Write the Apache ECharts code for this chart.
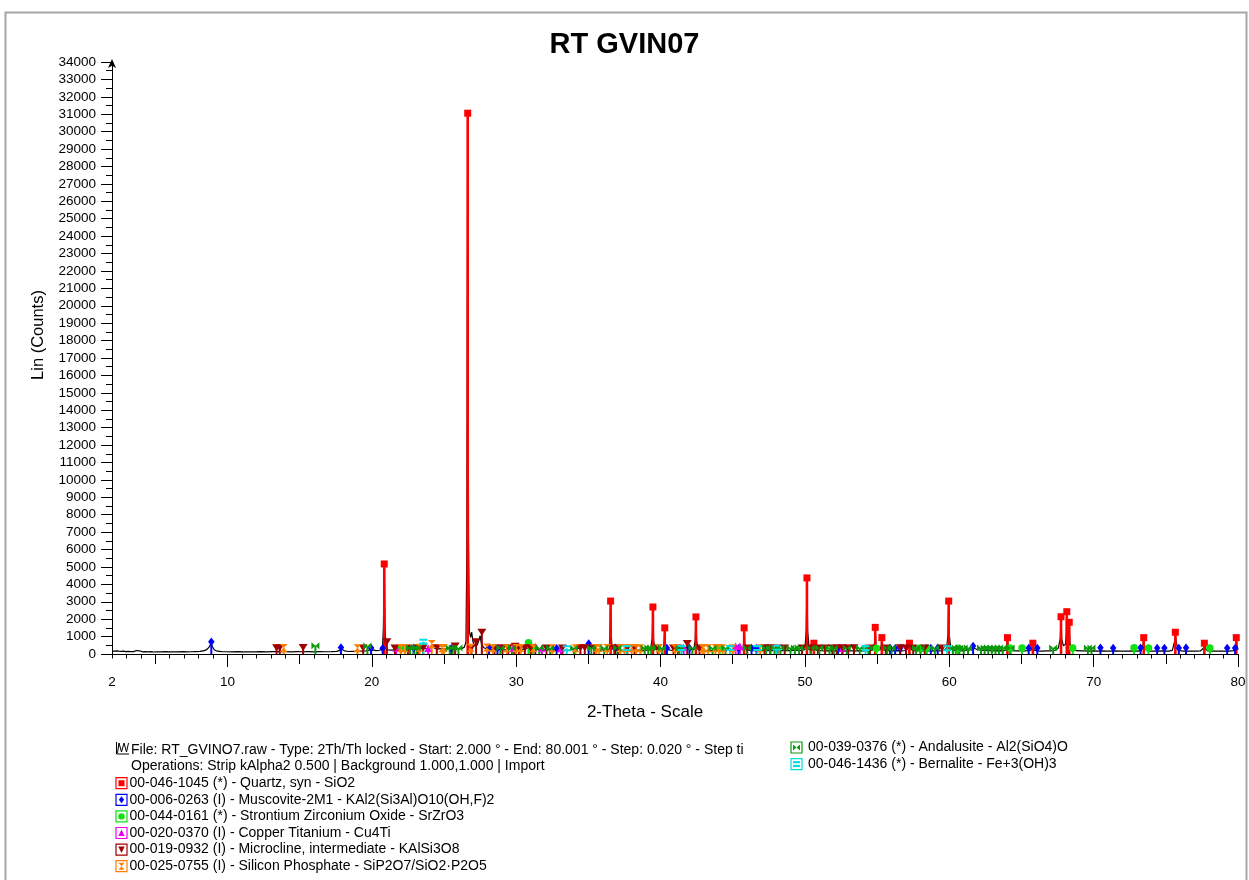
<!DOCTYPE html>
<html>
<head>
<meta charset="utf-8">
<script src="https://cdn.jsdelivr.net/npm/echarts@6/dist/echarts.min.js"></script>
<style>
  html, body { margin: 0; padding: 0; background: #ffffff; }
  #chart { width: 1249px; height: 880px; }
</style>
</head>
<body>
<div id="chart"></div>
<script>
// ---- texts ----
const titleText = 'RT GVIN07';
const xAxisTitle = '2-Theta - Scale';
const yAxisTitle = 'Lin (Counts)';
const fileLines = [
  'File: RT_GVINO7.raw - Type: 2Th/Th locked - Start: 2.000 \u00b0 - End: 80.001 \u00b0 - Step: 0.020 \u00b0 - Step ti',
  'Operations: Strip kAlpha2 0.500 | Background 1.000,1.000 | Import'
];
const phaseNames = [
  '00-046-1045 (*) - Quartz, syn - SiO2',
  '00-006-0263 (I) - Muscovite-2M1 - KAl2(Si3Al)O10(OH,F)2',
  '00-044-0161 (*) - Strontium Zirconium Oxide - SrZrO3',
  '00-020-0370 (I) - Copper Titanium - Cu4Ti',
  '00-019-0932 (I) - Microcline, intermediate - KAlSi3O8',
  '00-025-0755 (I) - Silicon Phosphate - SiP2O7/SiO2\u00b7P2O5',
  '00-039-0376 (*) - Andalusite - Al2(SiO4)O',
  '00-046-1436 (*) - Bernalite - Fe+3(OH)3'
];

// ---- axes ----
const xMin = 2, xMax = 80;
const xLabelValues = [2, 10, 20, 30, 40, 50, 60, 70, 80];
const xTenTicks = [10, 20, 30, 40, 50, 60, 70, 80];
const xFiveTicks = [5, 15, 25, 35, 45, 55, 65, 75];
const yMin = 0, yMax = 34000, yStep = 1000;

// ---- measured pattern: [2-theta, counts] ----
const scan = [
  [2.00,150],[2.08,95],[2.16,170],[2.24,100],[2.32,180],[2.40,110],[2.48,160],[2.56,90],[2.64,150],[2.72,120],
  [2.80,165],[2.88,100],[2.96,140],[3.04,115],[3.12,150],[3.20,105],[3.30,140],[3.40,120],[3.50,135],[3.60,150],
  [3.70,200],[3.80,215],[3.90,185],[4.00,140],[4.15,125],[4.30,140],[4.50,120],[4.70,135],[4.90,115],[5.10,130],
  [5.40,120],[5.70,135],[6.00,125],[6.30,130],[6.60,120],[6.90,135],[7.20,125],[7.50,130],[7.80,140],[8.10,150],
  [8.40,190],[8.60,280],[8.75,420],[8.85,620],[8.95,430],[9.10,230],[9.30,160],[9.60,140],[9.90,130],[10.3,125],
  [10.7,135],[11.1,125],[11.5,130],[11.9,120],[12.3,135],[12.7,125],[13.1,135],[13.4,140],[13.7,150],[14.0,140],
  [14.4,125],[14.8,135],[15.2,130],[15.6,140],[16.0,125],[16.4,135],[16.8,130],[17.2,140],[17.55,150],[17.8,210],
  [17.95,260],[18.1,180],[18.4,145],[18.7,150],[19.0,155],[19.3,170],[19.6,185],[19.85,220],[20.05,240],[20.3,195],
  [20.55,215],[20.74,360],[20.80,1500],[20.86,5170],[20.92,1400],[20.98,380],[21.1,240],[21.4,225],[21.7,265],[22.0,250],
  [22.25,285],[22.5,260],[22.75,310],[23.0,390],[23.15,320],[23.35,290],[23.6,360],[23.8,300],[24.0,330],[24.2,460],
  [24.35,330],[24.6,295],[24.85,310],[25.1,285],[25.35,325],[25.6,410],[25.75,330],[26.0,290],[26.2,310],[26.4,380],
  [26.52,700],[26.58,6000],[26.64,31060],[26.70,6500],[26.76,1300],[26.84,950],[26.92,1250],[27.0,720],[27.12,460],[27.3,520],
  [27.42,800],[27.50,1050],[27.58,620],[27.75,360],[27.95,310],[28.15,270],[28.4,245],[28.7,235],[29.0,255],[29.3,245],
  [29.6,300],[29.8,380],[29.92,440],[30.05,300],[30.3,265],[30.6,275],[30.85,360],[31.05,265],[31.3,245],[31.6,255],
  [31.9,240],[32.2,235],[32.5,260],[32.8,225],[33.1,205],[33.4,215],[33.7,225],[34.0,260],[34.3,320],[34.6,380],
  [34.85,450],[35.0,520],[35.15,420],[35.4,310],[35.7,255],[36.0,235],[36.3,230],[36.46,300],[36.50,1300],[36.54,3040],
  [36.58,1200],[36.64,290],[36.9,225],[37.2,205],[37.5,215],[37.8,235],[38.1,210],[38.4,225],[38.7,205],[39.0,215],
  [39.3,240],[39.42,900],[39.47,2700],[39.52,800],[39.6,290],[39.9,225],[40.15,240],[40.24,600],[40.29,1500],[40.34,560],
  [40.45,260],[40.7,225],[41.0,205],[41.3,230],[41.6,300],[41.8,400],[42.0,265],[42.3,250],[42.40,800],[42.45,2130],
  [42.50,760],[42.6,255],[42.9,205],[43.2,195],[43.5,200],[43.8,210],[44.1,215],[44.4,195],[44.7,205],[45.0,225],
  [45.3,330],[45.5,265],[45.7,240],[45.75,600],[45.79,1500],[45.84,560],[45.95,235],[46.2,205],[46.5,195],[46.8,210],
  [47.1,195],[47.4,205],[47.7,195],[48.0,210],[48.3,195],[48.6,205],[48.9,195],[49.2,205],[49.5,200],[49.8,210],
  [50.0,260],[50.09,1400],[50.14,4370],[50.19,1300],[50.3,260],[50.5,210],[50.58,380],[50.62,620],[50.67,350],[50.8,210],
  [51.1,195],[51.4,185],[51.7,195],[52.0,185],[52.3,195],[52.6,185],[52.9,190],[53.2,185],[53.5,180],[53.8,195],
  [54.1,185],[54.4,190],[54.65,210],[54.82,600],[54.87,1530],[54.92,560],[55.05,240],[55.2,230],[55.29,500],[55.33,940],
  [55.38,480],[55.5,220],[55.8,195],[56.1,185],[56.4,195],[56.7,185],[57.0,200],[57.19,380],[57.24,620],[57.29,360],
  [57.45,195],[57.8,185],[58.1,195],[58.4,180],[58.7,190],[59.0,185],[59.3,180],[59.6,200],[59.82,330],[59.91,1100],
  [59.96,3040],[60.01,1050],[60.1,320],[60.3,210],[60.6,195],[60.9,185],[61.2,200],[61.45,240],[61.7,330],[61.95,260],
  [62.2,215],[62.5,200],[62.8,190],[63.1,185],[63.4,190],[63.7,180],[63.95,230],[64.03,940],[64.1,240],[64.3,195],
  [64.6,180],[64.9,175],[65.2,185],[65.5,190],[65.7,230],[65.79,620],[65.88,220],[66.1,180],[66.4,170],[66.7,180],
  [67.0,175],[67.3,200],[67.55,330],[67.69,900],[67.74,2140],[67.79,850],[67.9,480],[68.05,560],[68.1,1100],[68.14,2430],
  [68.19,1000],[68.25,800],[68.30,1820],[68.36,620],[68.5,280],[68.8,190],[69.1,175],[69.4,180],[69.7,170],[70.0,175],
  [70.3,165],[70.6,175],[70.9,170],[71.2,165],[71.5,175],[71.8,165],[72.1,170],[72.4,165],[72.7,175],[73.0,170],
  [73.3,190],[73.42,500],[73.47,940],[73.52,450],[73.7,185],[74.0,170],[74.3,165],[74.6,175],[74.9,165],[75.2,170],
  [75.45,210],[75.60,700],[75.66,1250],[75.72,650],[75.9,200],[76.2,170],[76.5,165],[76.8,170],[77.1,160],[77.4,175],
  [77.60,330],[77.67,620],[77.74,300],[77.9,175],[78.2,165],[78.5,170],[78.8,160],[79.1,170],[79.4,165],[79.7,190],
  [79.83,500],[79.88,940],[79.93,480],[80.0,230]
];

// ---- reference patterns: [2-theta, stick height in counts] ----
const quartzPeaks = [
  [20.86,5170],[26.64,31060],[36.54,3040],[39.47,2700],[40.29,1500],[42.45,2130],[45.79,1500],[50.14,4370],
  [50.62,620],[54.87,1530],[55.33,940],[57.24,620],[59.96,3040],[64.03,940],[65.79,620],[67.74,2140],
  [68.14,2430],[68.31,1820],[73.47,940],[75.66,1250],[77.67,620],[79.88,940]
];
const muscovitePeaks = [
  [8.88,700],[17.86,380],[19.95,340],[20.75,330],[22.9,340],[25.5,330],[28.12,370],[28.7,330],[31.32,380],
  [32.8,330],[35.02,600],[36.86,360],[40.44,350],[42.0,350],[45.4,330],[46.3,340],[46.65,340],[52.3,340],
  [55.9,350],[56.25,330],[56.6,340],[58.72,350],[59.2,360],[61.65,460],[65.5,340],[66.1,340],[70.47,360],
  [71.35,340],[73.25,360],[74.4,340],[74.9,340],[75.9,340],[76.4,360],[79.25,340],[79.8,340]
];
const srZrO3Peaks = [
  [22.0,330],[30.85,650],[31.1,380],[44.1,340],[54.95,330],[58.0,340],[58.45,340],[60.6,330],[64.2,340],
  [65.04,350],[68.55,340],[72.8,360],[73.8,340],[78.05,340]
];
const cu4TiPeaks = [
  [21.68,340],[23.9,330],[29.8,340],[31.78,340],[33.1,320],[41.6,380],[45.2,450],[45.5,450],[52.6,330]
];
const microclinePeaks = [
  [13.4,360],[13.62,360],[15.24,370],[19.4,340],[21.04,700],[21.6,340],[22.5,350],[23.2,350],[23.55,350],
  [24.5,360],[25.77,460],[26.9,380],[27.22,700],[27.62,1250],[28.5,340],[29.05,360],[29.45,360],[29.93,440],
  [30.2,350],[30.6,360],[31.0,340],[32.1,350],[33.2,340],[34.45,360],[34.75,360],[35.4,350],[36.8,340],
  [37.05,340],[37.7,340],[38.2,340],[39.8,340],[40.9,350],[41.2,340],[41.85,600],[42.7,340],[46.0,340],
  [47.2,360],[47.6,360],[48.1,350],[48.6,350],[49.8,350],[50.4,340],[50.9,350],[51.4,350],[51.9,350],
  [52.2,350],[52.6,360],[53.0,350],[53.4,360],[54.5,340],[55.6,340],[56.6,360],[57.0,350],[57.5,340],
  [58.3,340],[59.5,340]
];
const siliconPhosphatePeaks = [
  [13.9,340],[19.0,330],[22.0,340],[22.3,330],[23.3,360],[24.15,580],[24.85,330],[25.0,340],[26.85,360],
  [27.97,370],[28.4,330],[29.35,330],[30.0,340],[30.3,340],[31.2,330],[32.5,330],[34.1,330],[35.55,340],
  [35.75,340],[36.3,340],[37.2,330],[37.5,340],[38.0,340],[38.3,340],[38.6,330],[39.9,330],[41.0,330],
  [42.9,330],[43.0,340],[43.3,330],[43.8,340],[44.05,350],[44.3,330],[45.0,330],[46.9,330]
];
const andalusitePeaks = [
  [16.09,480],[19.69,460],[22.65,350],[22.9,340],[23.1,350],[25.4,340],[25.6,340],[26.0,340],[28.9,340],
  [29.7,350],[31.6,340],[32.35,350],[34.0,340],[35.2,340],[36.1,340],[37.0,340],[38.9,340],[39.15,340],
  [39.35,340],[40.1,340],[41.3,330],[42.2,340],[43.6,340],[44.5,340],[46.0,340],[47.3,350],[47.6,340],
  [47.9,350],[48.3,340],[49.0,350],[49.3,340],[49.6,340],[50.4,340],[51.0,340],[51.7,340],[52.0,350],
  [52.9,340],[53.8,340],[54.4,340],[55.7,340],[56.0,340],[57.7,340],[58.0,330],[59.0,340],[60.25,340],
  [60.45,350],[60.7,340],[61.0,350],[61.3,340],[62.2,340],[62.45,350],[62.7,340],[62.95,350],[63.2,340],
  [63.45,350],[63.7,340],[64.25,340],[67.2,350],[69.6,350],[69.85,350]
];
const bernalitePeaks = [
  [23.57,710],[33.5,330],[37.65,340],[41.45,340],[44.83,340],[46.7,340],[48.05,360],[54.2,340],[59.85,330]
];

// ---- styling for each reference pattern ----
const FONT = '"Liberation Sans", Arial, Helvetica, sans-serif';
const SYMBOLS = {
  square:    { symbol: 'rect', size: [7, 7] },
  diamond:   { symbol: 'diamond', size: [6.5, 8.5] },
  circle:    { symbol: 'circle', size: [7.5, 7.5] },
  triUp:     { symbol: 'triangle', size: [7.5, 7.5] },
  triDown:   { symbol: 'path://M0,0 L10,0 L5,8 Z', size: [9, 7] },
  hourglass: { symbol: 'path://M0,0 L10,0 L5,5 Z M5,5 L10,10 L0,10 Z', size: [8, 8] },
  bowtie:    { symbol: 'path://M0,0 L5,5 L0,10 Z M10,0 L10,10 L5,5 Z', size: [8, 7] },
  equals:    { symbol: 'path://M0,0 H10 V3.5 H0 Z M0,6.5 H10 V10 H0 Z', size: [8, 6] }
};
const phases = [
  { name: phaseNames[0], peaks: quartzPeaks,           color: '#ff0000', mark: 'square',    stick: 2.6 },
  { name: phaseNames[1], peaks: muscovitePeaks,        color: '#0000ff', mark: 'diamond',   stick: 2 },
  { name: phaseNames[2], peaks: srZrO3Peaks,           color: '#11e011', mark: 'circle',    stick: 2 },
  { name: phaseNames[3], peaks: cu4TiPeaks,            color: '#ee00ee', mark: 'triUp',     stick: 2 },
  { name: phaseNames[4], peaks: microclinePeaks,       color: '#a00000', mark: 'triDown',   stick: 2 },
  { name: phaseNames[5], peaks: siliconPhosphatePeaks, color: '#ff8000', mark: 'hourglass', stick: 2 },
  { name: phaseNames[6], peaks: andalusitePeaks,       color: '#0a9a0a', mark: 'bowtie',    stick: 2 },
  { name: phaseNames[7], peaks: bernalitePeaks,        color: '#00dede', mark: 'equals',    stick: 2 }
];

// ---- series ----
const series = [{
  name: 'scan',
  type: 'line',
  data: scan,
  xAxisIndex: 0, yAxisIndex: 0,
  showSymbol: false,
  symbol: 'none',
  lineStyle: { color: '#000000', width: 1.2 },
  z: 2,
  silent: true
}];

phases.forEach(function (ph, i) {
  // vertical sticks from the baseline up to each reference intensity
  series.push({
    name: ph.name,
    type: 'custom',
    data: ph.peaks,
    xAxisIndex: 0, yAxisIndex: 0,
    encode: { x: 0, y: 1 },
    z: 3 + i * 0.01,
    silent: true,
    renderItem: function (params, api) {
      const p0 = api.coord([api.value(0), 0]);
      const p1 = api.coord([api.value(0), api.value(1)]);
      return {
        type: 'line',
        shape: { x1: p0[0], y1: p0[1], x2: p1[0], y2: p1[1] },
        style: { stroke: ph.color, lineWidth: ph.stick }
      };
    }
  });
  // phase markers on top of the sticks
  series.push({
    name: ph.name,
    type: 'scatter',
    data: ph.peaks,
    xAxisIndex: 0, yAxisIndex: 0,
    symbol: SYMBOLS[ph.mark].symbol,
    symbolSize: SYMBOLS[ph.mark].size,
    itemStyle: { color: ph.color, opacity: 1 },
    z: 4 + i * 0.01,
    silent: true
  });
});

// ---- legend drawn as graphic elements ----
function markerShapes(mark, cx, cy, color) {
  const style = { fill: color };
  switch (mark) {
    case 'square':
      return [{ type: 'rect', shape: { x: cx - 3, y: cy - 3, width: 6, height: 6 }, style }];
    case 'diamond':
      return [{ type: 'polygon', shape: { points: [[cx, cy - 3.5], [cx + 2.6, cy], [cx, cy + 3.5], [cx - 2.6, cy]] }, style }];
    case 'circle':
      return [{ type: 'circle', shape: { cx, cy, r: 3.2 }, style }];
    case 'triUp':
      return [{ type: 'polygon', shape: { points: [[cx, cy - 3.5], [cx + 3.2, cy + 3], [cx - 3.2, cy + 3]] }, style }];
    case 'triDown':
      return [{ type: 'polygon', shape: { points: [[cx - 3.2, cy - 3], [cx + 3.2, cy - 3], [cx, cy + 3.5]] }, style }];
    case 'hourglass':
      return [
        { type: 'polygon', shape: { points: [[cx - 3, cy - 3.5], [cx + 3, cy - 3.5], [cx, cy]] }, style },
        { type: 'polygon', shape: { points: [[cx, cy], [cx + 3, cy + 3.5], [cx - 3, cy + 3.5]] }, style }
      ];
    case 'bowtie':
      return [
        { type: 'polygon', shape: { points: [[cx - 3.5, cy - 3], [cx, cy], [cx - 3.5, cy + 3]] }, style },
        { type: 'polygon', shape: { points: [[cx + 3.5, cy - 3], [cx + 3.5, cy + 3], [cx, cy]] }, style }
      ];
    case 'equals':
      return [
        { type: 'rect', shape: { x: cx - 3.5, y: cy - 3, width: 7, height: 2.2 }, style },
        { type: 'rect', shape: { x: cx - 3.5, y: cy + 0.8, width: 7, height: 2.2 }, style }
      ];
  }
  return [];
}

const legendText = { fill: '#000000', fontSize: 14, fontFamily: FONT };
const graphics = [];

// outer frame of the report
graphics.push({
  type: 'rect', z: 0, silent: true,
  shape: { x: 5.5, y: 12.5, width: 1241, height: 900 },
  style: { fill: null, stroke: '#a6a6a6', lineWidth: 2 }
});

// axis titles
graphics.push({
  type: 'text', x: 38, y: 335, rotation: Math.PI / 2, silent: true,
  style: { text: yAxisTitle, fill: '#000', fontSize: 16.5, fontFamily: FONT, align: 'center', verticalAlign: 'middle' }
});
graphics.push({
  type: 'text', x: 645, y: 712, silent: true,
  style: { text: xAxisTitle, fill: '#000', fontSize: 17, fontFamily: FONT, align: 'center', verticalAlign: 'middle' }
});

// scan entry (two lines) with a small waveform icon
const rowStep = 16.6;
const col1Top = 750;
graphics.push({
  type: 'group', silent: true,
  children: [
    { type: 'polyline', shape: { points: [[116.5, 742], [116.5, 754], [129, 754]] }, style: { stroke: '#000', lineWidth: 1, fill: null } },
    { type: 'polyline', shape: { points: [[117.5, 753], [119, 743], [121.5, 752], [124, 743], [126.5, 752], [128.5, 743]] }, style: { stroke: '#000', lineWidth: 1, fill: null } }
  ]
});
fileLines.forEach(function (t, i) {
  graphics.push({
    type: 'text', x: 131, y: col1Top + i * rowStep, silent: true,
    style: Object.assign({ text: t, verticalAlign: 'middle', align: 'left' }, legendText)
  });
});

// reference pattern entries
function legendEntry(ph, boxX, textX, cy) {
  const children = [{
    type: 'rect', shape: { x: boxX + 0.5, y: cy - 5.5, width: 11, height: 11 },
    style: { fill: '#ffffff', stroke: ph.color, lineWidth: 1.2 }
  }].concat(markerShapes(ph.mark, boxX + 6, cy, ph.color));
  graphics.push({ type: 'group', silent: true, children });
  graphics.push({
    type: 'text', x: textX, y: cy, silent: true,
    style: Object.assign({ text: ph.name, verticalAlign: 'middle', align: 'left' }, legendText)
  });
}
phases.slice(0, 6).forEach(function (ph, i) {
  legendEntry(ph, 115.5, 129.5, col1Top + (i + 2) * rowStep);
});
phases.slice(6).forEach(function (ph, i) {
  legendEntry(ph, 790.5, 808, 747.5 + i * rowStep);
});

// ---- chart ----
const axisBlack = { color: '#000000', width: 1 };
const option = {
  animation: false,
  backgroundColor: '#ffffff',
  title: {
    text: titleText,
    left: 'center',
    top: 25,
    textStyle: { fontSize: 29, fontWeight: 'bold', fontFamily: FONT, color: '#000000' }
  },
  grid: { left: 112, right: 11, top: 62, bottom: 226, containLabel: false },
  xAxis: [
    {
      type: 'value', min: xMin, max: xMax, position: 'bottom',
      axisLine: { show: true, onZero: false, lineStyle: axisBlack },
      axisTick: { show: true, customValues: xTenTicks, length: 13, lineStyle: axisBlack },
      axisLabel: { show: true, customValues: xLabelValues, margin: 21, fontSize: 13.5, fontFamily: FONT, color: '#000000' },
      splitLine: { show: false }
    },
    {
      type: 'value', min: xMin, max: xMax, position: 'bottom',
      axisLine: { show: false },
      axisTick: { show: true, customValues: xFiveTicks, length: 10, lineStyle: axisBlack },
      axisLabel: { show: false },
      splitLine: { show: false }
    },
    {
      type: 'value', min: xMin, max: xMax, interval: 1, position: 'bottom',
      axisLine: { show: false },
      axisTick: { show: true, length: 4.5, lineStyle: axisBlack },
      axisLabel: { show: false },
      splitLine: { show: false }
    }
  ],
  yAxis: {
    type: 'value', min: yMin, max: yMax, interval: yStep,
    axisLine: {
      show: true, onZero: false, lineStyle: axisBlack,
      symbol: ['none', 'arrow'], symbolSize: [6, 9], symbolOffset: [0, 3]
    },
    axisTick: { show: true, length: 11, lineStyle: axisBlack },
    minorTick: { show: true, splitNumber: 2, length: 6, lineStyle: axisBlack },
    axisLabel: {
      margin: 16, fontSize: 13.5, fontFamily: FONT, color: '#000000', padding: [5, 0, 0, 0],
      formatter: function (v) { return String(v); }
    },
    splitLine: { show: false },
    minorSplitLine: { show: false }
  },
  graphic: graphics,
  series: series
};

const chart = echarts.init(document.getElementById('chart'), null, { renderer: 'canvas' });
chart.setOption(option);
</script>
</body>
</html>
